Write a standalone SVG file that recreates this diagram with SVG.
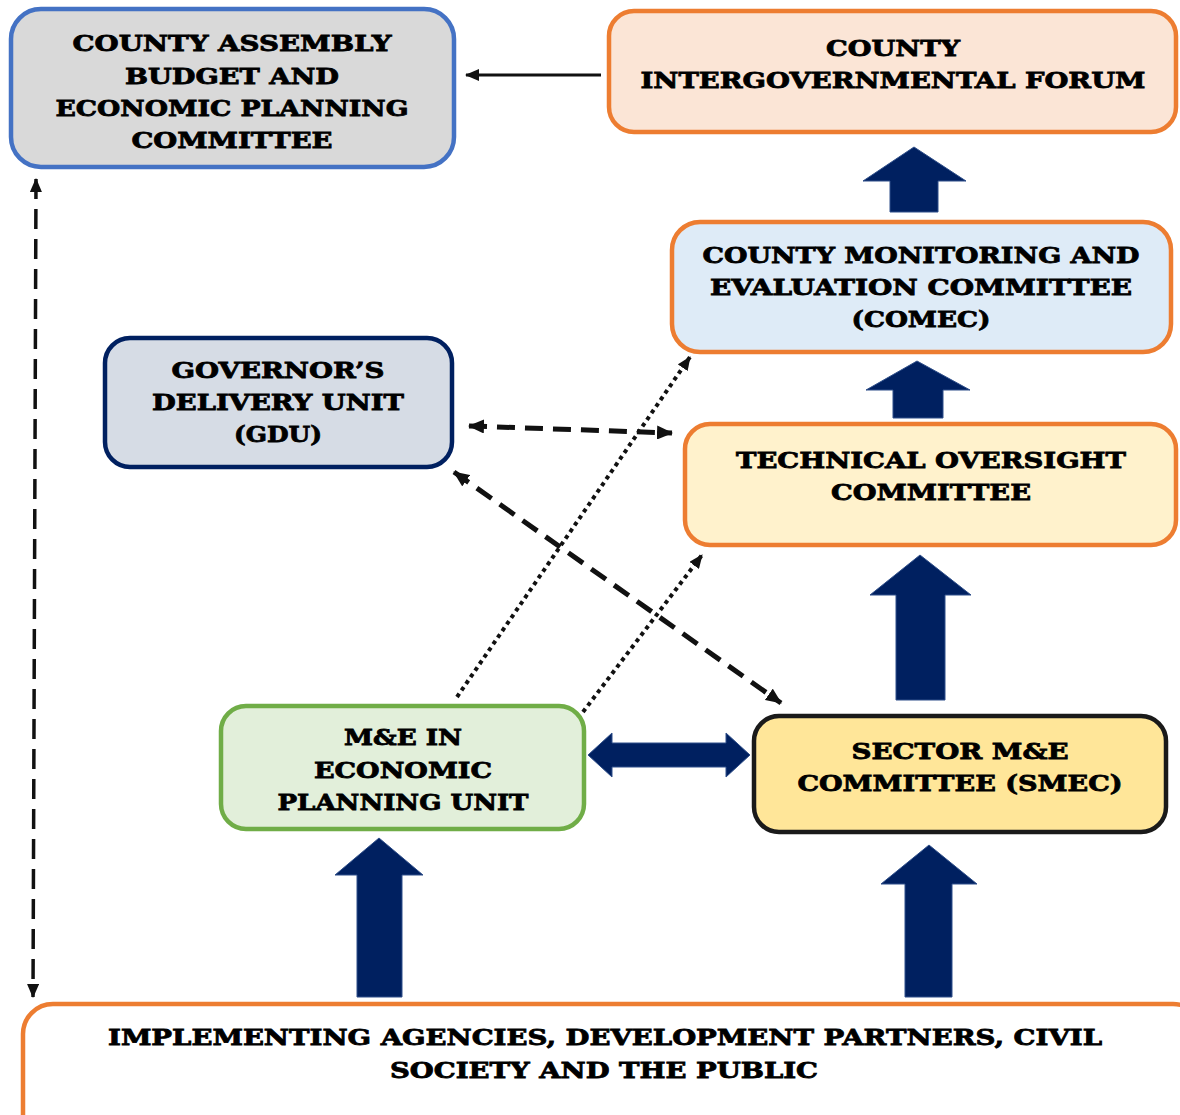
<svg xmlns="http://www.w3.org/2000/svg" width="1180" height="1115" viewBox="0 0 1180 1115">
  <style>
    .box { stroke-width: 4.5; }
    .lbl { font-family: "DejaVu Serif", "Liberation Serif", serif; font-weight: bold; font-size: 22px; fill: #000; stroke: #000; stroke-width: 0.8; text-anchor: middle; }
    .block { fill: #002060; stroke: #2F4F8A; stroke-width: 1; }
    .dash { fill: none; stroke: #111; stroke-width: 5; stroke-dasharray: 18 10; }
    .vdash { fill: none; stroke: #111; stroke-width: 3.5; stroke-dasharray: 20 10; }
    .dot { fill: none; stroke: #111; stroke-width: 4; stroke-dasharray: 4 4; }
    .solid { fill: none; stroke: #111; stroke-width: 3; }
  </style>
  <defs>
    <marker id="head" viewBox="0 0 16 14" refX="15" refY="7" markerWidth="16" markerHeight="14" markerUnits="userSpaceOnUse" orient="auto-start-reverse">
      <path d="M0,0 L16,7 L0,14 z" fill="#111"/>
    </marker>
    <marker id="headS" viewBox="0 0 14 12" refX="13" refY="6" markerWidth="14" markerHeight="12" markerUnits="userSpaceOnUse" orient="auto-start-reverse">
      <path d="M0,0 L14,6 L0,12 z" fill="#111"/>
    </marker>
  </defs>

  <rect width="1180" height="1115" fill="#fff"/>

  <!-- connectors -->
  <g id="connectors">
    <line class="solid" x1="601" y1="75" x2="466" y2="75" marker-end="url(#headS)"/>
    <line class="vdash" x1="36" y1="179" x2="33" y2="997" marker-start="url(#headS)" marker-end="url(#headS)"/>
    <line class="dash" x1="469" y1="426" x2="672" y2="433" marker-start="url(#head)" marker-end="url(#head)"/>
    <line class="dash" x1="454" y1="472" x2="781" y2="703" marker-start="url(#head)" marker-end="url(#head)"/>
    <line class="dot" x1="457" y1="697" x2="690" y2="357" marker-end="url(#headS)"/>
    <line class="dot" x1="583" y1="712" x2="702" y2="555" marker-end="url(#headS)"/>

    <polygon class="block" points="890,212 890,181 863,181 914,147 966,181 938,181 938,212"/>
    <polygon class="block" points="893,418 893,390 866,390 917,361 970,390 943,390 943,418"/>
    <polygon class="block" points="896,700 896,595 870,595 920,555 971,595 945,595 945,700"/>
    <polygon class="block" points="357,997 357,875 335,875 379,838 423,875 402,875 402,997"/>
    <polygon class="block" points="905,997 905,884 881,884 929,845 977,884 952,884 952,997"/>
    <polygon class="block" points="588,755 612,733 612,743 726,743 726,733 750,755 726,777 726,767 612,767 612,777"/>
  </g>

  <!-- County Assembly Budget and Economic Planning Committee -->
  <g id="assembly">
    <rect class="box" x="11" y="9" width="443" height="158" rx="30" fill="#D9D9D9" stroke="#4472C4"/>
    <text class="lbl" x="232" y="51" textLength="319" lengthAdjust="spacingAndGlyphs">COUNTY ASSEMBLY</text>
    <text class="lbl" x="232" y="84" textLength="214" lengthAdjust="spacingAndGlyphs">BUDGET AND</text>
    <text class="lbl" x="232" y="116" textLength="353" lengthAdjust="spacingAndGlyphs">ECONOMIC PLANNING</text>
    <text class="lbl" x="232" y="148" textLength="201" lengthAdjust="spacingAndGlyphs">COMMITTEE</text>
  </g>

  <!-- County Intergovernmental Forum -->
  <g id="forum">
    <rect class="box" x="609" y="11" width="567" height="121" rx="25" fill="#FBE5D6" stroke="#ED7D31"/>
    <text class="lbl" x="893" y="56" textLength="134" lengthAdjust="spacingAndGlyphs">COUNTY</text>
    <text class="lbl" x="893" y="88" textLength="505" lengthAdjust="spacingAndGlyphs">INTERGOVERNMENTAL FORUM</text>
  </g>

  <!-- COMEC -->
  <g id="comec">
    <rect class="box" x="672" y="222" width="499" height="130" rx="28" fill="#DEEBF7" stroke="#ED7D31"/>
    <text class="lbl" x="921" y="263" textLength="437" lengthAdjust="spacingAndGlyphs">COUNTY MONITORING AND</text>
    <text class="lbl" x="921" y="295" textLength="422" lengthAdjust="spacingAndGlyphs">EVALUATION COMMITTEE</text>
    <text class="lbl" x="921" y="327" textLength="139" lengthAdjust="spacingAndGlyphs">(COMEC)</text>
  </g>

  <!-- Technical Oversight Committee -->
  <g id="toc">
    <rect class="box" x="685" y="424" width="491" height="121" rx="25" fill="#FFF2CC" stroke="#ED7D31"/>
    <text class="lbl" x="931" y="468" textLength="390" lengthAdjust="spacingAndGlyphs">TECHNICAL OVERSIGHT</text>
    <text class="lbl" x="931" y="500" textLength="200" lengthAdjust="spacingAndGlyphs">COMMITTEE</text>
  </g>

  <!-- Governor's Delivery Unit -->
  <g id="gdu">
    <rect class="box" x="105" y="338" width="347" height="129" rx="25" fill="#D6DCE5" stroke="#002060"/>
    <text class="lbl" x="278" y="378" textLength="213" lengthAdjust="spacingAndGlyphs">GOVERNOR’S</text>
    <text class="lbl" x="278" y="410" textLength="252" lengthAdjust="spacingAndGlyphs">DELIVERY UNIT</text>
    <text class="lbl" x="278" y="442" textLength="88" lengthAdjust="spacingAndGlyphs">(GDU)</text>
  </g>

  <!-- M&E in Economic Planning Unit -->
  <g id="epu">
    <rect class="box" x="221" y="706" width="363" height="123" rx="25" fill="#E2EFDA" stroke="#70AD47"/>
    <text class="lbl" x="403" y="745" textLength="118" lengthAdjust="spacingAndGlyphs">M&amp;E IN</text>
    <text class="lbl" x="403" y="778" textLength="178" lengthAdjust="spacingAndGlyphs">ECONOMIC</text>
    <text class="lbl" x="403" y="810" textLength="251" lengthAdjust="spacingAndGlyphs">PLANNING UNIT</text>
  </g>

  <!-- Sector M&E Committee -->
  <g id="smec">
    <rect class="box" x="754" y="716" width="412" height="116" rx="25" fill="#FFE699" stroke="#1A1A1A" stroke-width="5"/>
    <text class="lbl" x="960" y="759" textLength="217" lengthAdjust="spacingAndGlyphs">SECTOR M&amp;E</text>
    <text class="lbl" x="960" y="791" textLength="325" lengthAdjust="spacingAndGlyphs">COMMITTEE (SMEC)</text>
  </g>

  <!-- Implementing agencies, partners, civil society, public -->
  <g id="public">
    <rect class="box" x="23" y="1004" width="1180" height="140" rx="30" fill="#fff" stroke="#ED7D31"/>
    <text class="lbl" x="605" y="1045" textLength="994" lengthAdjust="spacingAndGlyphs">IMPLEMENTING AGENCIES, DEVELOPMENT PARTNERS, CIVIL</text>
    <text class="lbl" x="604" y="1078" textLength="428" lengthAdjust="spacingAndGlyphs">SOCIETY AND THE PUBLIC</text>
  </g>
</svg>
